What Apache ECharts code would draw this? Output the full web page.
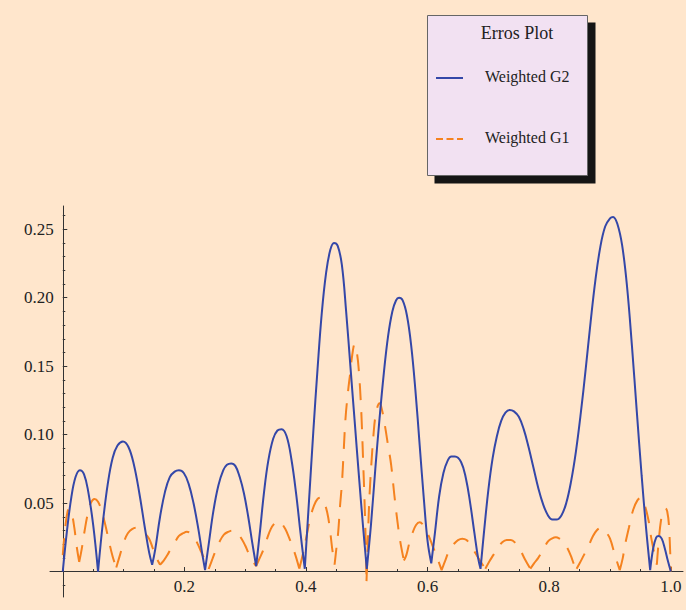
<!DOCTYPE html>
<html>
<head>
<meta charset="utf-8">
<script src="https://cdn.jsdelivr.net/npm/echarts@6/dist/echarts.min.js"></script>
<style>
html,body{margin:0;padding:0;background:#FFE6CC;}
#c{width:686px;height:610px;}
</style>
</head>
<body>
<div id="c"></div>
<script>
// ---- Data ----
const legendTitle = 'Erros Plot';
const seriesNames = ['Weighted G2', 'Weighted G1'];

const xMajorTicks = [0, 0.2, 0.4, 0.6, 0.8, 1.0];
const xTickLabels = [0.2, 0.4, 0.6, 0.8, 1.0];
const xMinorTicks = [0.05, 0.1, 0.15, 0.25, 0.3, 0.35, 0.45, 0.5, 0.55, 0.65, 0.7, 0.75, 0.85, 0.9, 0.95];
const yMajorTicks = [0, 0.05, 0.10, 0.15, 0.20, 0.25];
const yTickLabels = [0.05, 0.10, 0.15, 0.20, 0.25];
const yMinorTicks = [-0.01, 0.01, 0.02, 0.03, 0.04, 0.06, 0.07, 0.08, 0.09, 0.11, 0.12, 0.13, 0.14,
                     0.16, 0.17, 0.18, 0.19, 0.21, 0.22, 0.23, 0.24, 0.26];

// Weighted G2 (solid blue), one list per arch between cusps
const weightedG2 = [
[[0.000,0.000],[0.007,0.030],[0.014,0.054],[0.021,0.069],[0.028,0.074],[0.035,0.071],[0.042,0.058],[0.050,0.034],[0.058,0.000]],
[[0.058,0.000],[0.066,0.036],[0.074,0.064],[0.082,0.083],[0.090,0.092],[0.099,0.095],[0.108,0.091],[0.117,0.078],[0.126,0.057],[0.135,0.032],[0.142,0.014],[0.147,0.005]],
[[0.147,0.005],[0.152,0.016],[0.160,0.040],[0.168,0.058],[0.176,0.069],[0.184,0.073],[0.191,0.074],[0.199,0.072],[0.207,0.064],[0.215,0.050],[0.223,0.031],[0.229,0.014],[0.234,0.001]],
[[0.234,0.001],[0.240,0.020],[0.248,0.045],[0.256,0.063],[0.264,0.074],[0.270,0.078],[0.277,0.079],[0.284,0.077],[0.291,0.069],[0.298,0.057],[0.305,0.040],[0.312,0.020],[0.318,0.004]],
[[0.318,0.004],[0.324,0.028],[0.331,0.058],[0.338,0.081],[0.346,0.097],[0.353,0.103],[0.360,0.104],[0.368,0.099],[0.376,0.082],[0.384,0.056],[0.391,0.028],[0.398,0.002]],
[[0.398,0.002],[0.405,0.052],[0.412,0.102],[0.419,0.148],[0.426,0.189],[0.433,0.218],[0.440,0.235],[0.446,0.240],[0.452,0.238],[0.459,0.224],[0.466,0.190],[0.473,0.150],[0.480,0.110],[0.487,0.070],[0.494,0.032],[0.500,0.002]],
[[0.500,0.002],[0.507,0.035],[0.514,0.075],[0.521,0.112],[0.528,0.145],[0.535,0.172],[0.542,0.190],[0.548,0.198],[0.553,0.200],[0.559,0.198],[0.566,0.187],[0.573,0.165],[0.580,0.132],[0.587,0.092],[0.594,0.052],[0.600,0.022],[0.606,0.006]],
[[0.606,0.006],[0.612,0.028],[0.619,0.055],[0.626,0.072],[0.633,0.081],[0.639,0.084],[0.645,0.084],[0.655,0.080],[0.663,0.068],[0.670,0.050],[0.677,0.028],[0.683,0.010],[0.687,0.002]],
[[0.687,0.002],[0.693,0.030],[0.700,0.060],[0.707,0.083],[0.714,0.099],[0.721,0.110],[0.728,0.116],[0.735,0.118],[0.742,0.117],[0.750,0.113],[0.758,0.104],[0.766,0.091],[0.774,0.076],[0.782,0.061],[0.790,0.049],[0.798,0.041],[0.805,0.038],[0.812,0.038],
 [0.820,0.041],[0.828,0.050],[0.836,0.066],[0.844,0.088],[0.852,0.116],[0.860,0.148],[0.868,0.182],[0.876,0.213],[0.884,0.237],[0.892,0.252],[0.900,0.258],[0.905,0.259],[0.912,0.254],[0.920,0.238],[0.928,0.208],[0.936,0.165],[0.944,0.117],[0.952,0.070],[0.959,0.033],[0.966,0.001]],
[[0.966,0.001],[0.971,0.017],[0.976,0.025],[0.980,0.026],[0.985,0.024],[0.990,0.017],[0.995,0.008],[1.000,0.000]]
];

// Weighted G1 (dashed orange), one list per arch between cusps
const weightedG1 = [
[[0.000,0.012],[0.004,0.032],[0.008,0.044],[0.011,0.046],[0.015,0.042],[0.019,0.032],[0.023,0.018],[0.027,0.007]],
[[0.027,0.007],[0.031,0.016],[0.036,0.030],[0.041,0.042],[0.046,0.050],[0.052,0.053],[0.058,0.051],[0.064,0.044],[0.070,0.034],[0.076,0.022],[0.082,0.011],[0.088,0.003]],
[[0.088,0.003],[0.094,0.012],[0.100,0.021],[0.107,0.028],[0.114,0.031],[0.121,0.032],[0.128,0.031],[0.135,0.028],[0.142,0.024],[0.148,0.017],[0.154,0.010],[0.160,0.005]],
[[0.160,0.005],[0.166,0.008],[0.172,0.012],[0.178,0.017],[0.184,0.021],[0.191,0.026],[0.198,0.028],[0.204,0.029],[0.210,0.028],[0.216,0.025],[0.222,0.020],[0.228,0.014],[0.234,0.008],[0.240,0.002]],
[[0.240,0.002],[0.246,0.009],[0.252,0.016],[0.258,0.022],[0.265,0.027],[0.272,0.029],[0.280,0.030],[0.287,0.028],[0.294,0.024],[0.300,0.019],[0.306,0.013],[0.312,0.008],[0.318,0.004]],
[[0.318,0.004],[0.324,0.010],[0.330,0.016],[0.336,0.024],[0.342,0.031],[0.348,0.035],[0.354,0.037],[0.360,0.035],[0.366,0.031],[0.372,0.025],[0.378,0.018],[0.384,0.010],[0.389,0.002]],
[[0.389,0.002],[0.395,0.013],[0.401,0.026],[0.407,0.039],[0.413,0.048],[0.419,0.053],[0.425,0.054],[0.430,0.050],[0.435,0.043],[0.439,0.032],[0.443,0.017],[0.447,0.005]],
[[0.447,0.005],[0.450,0.017],[0.453,0.029],[0.456,0.048],[0.459,0.064],[0.462,0.088],[0.465,0.112],[0.469,0.131],[0.473,0.146],[0.476,0.158],[0.480,0.166],[0.484,0.159],[0.487,0.146],[0.490,0.125],[0.492,0.105],[0.494,0.080],[0.496,0.055],[0.498,0.025],[0.4995,-0.007]],
[[0.4995,-0.007],[0.501,0.012],[0.503,0.040],[0.505,0.060],[0.508,0.082],[0.511,0.100],[0.514,0.113],[0.518,0.121],[0.521,0.123],[0.525,0.118],[0.530,0.106],[0.535,0.092],[0.540,0.078],[0.545,0.057],[0.550,0.038],[0.555,0.022],[0.561,0.008]],
[[0.561,0.008],[0.565,0.012],[0.570,0.021],[0.575,0.028],[0.581,0.034],[0.587,0.036],[0.594,0.033],[0.601,0.027],[0.608,0.019],[0.615,0.011],[0.623,0.001]],
[[0.623,0.001],[0.629,0.008],[0.636,0.016],[0.643,0.020],[0.650,0.023],[0.657,0.024],[0.664,0.023],[0.671,0.019],[0.678,0.014],[0.686,0.008],[0.695,0.002]],
[[0.695,0.002],[0.701,0.007],[0.708,0.012],[0.715,0.017],[0.722,0.021],[0.730,0.023],[0.737,0.023],[0.744,0.021],[0.752,0.016],[0.760,0.009],[0.769,0.002]],
[[0.769,0.002],[0.775,0.006],[0.782,0.010],[0.790,0.016],[0.798,0.022],[0.804,0.024],[0.811,0.025],[0.817,0.024],[0.823,0.022],[0.830,0.017],[0.836,0.011],[0.841,0.005],[0.845,0.002]],
[[0.845,0.002],[0.850,0.006],[0.857,0.012],[0.864,0.018],[0.871,0.025],[0.878,0.030],[0.886,0.032],[0.893,0.029],[0.900,0.024],[0.908,0.012],[0.916,0.001]],
[[0.916,0.001],[0.921,0.010],[0.924,0.018],[0.931,0.032],[0.938,0.045],[0.945,0.052],[0.951,0.054],[0.956,0.050],[0.963,0.038],[0.968,0.024],[0.972,0.015],[0.977,0.005]],
[[0.977,0.005],[0.980,0.022],[0.984,0.038],[0.988,0.045],[0.991,0.046],[0.994,0.044],[0.997,0.033],[1.000,0.000]]
];

// join arches into one series, with a gap between arches so each keeps its cusp
function joinArches(arches) {
  const out = [];
  arches.forEach((a, i) => {
    if (i > 0) out.push(['-', '-']);
    a.forEach(p => out.push(p));
  });
  return out;
}

// ---- Styles / layout ----
const BG = '#FFE6CC';
const BLUE = '#3447A8';
const ORANGE = '#F5821F';
const AXIS = '#333333';
const FONT = 'Liberation Serif, DejaVu Serif, serif';
const X_MIN = -0.021, X_MAX = 1.02, Y_MIN = -0.0186, Y_MAX = 0.267;
const GRID = { left: 50, right: 3, top: 206, bottom: 13 };
const W = 686, H = 610;
const plotW = W - GRID.left - GRID.right, plotH = H - GRID.top - GRID.bottom;
// distance of the zero lines from the grid edges (used to place label-only axes)
const xZeroFromBottom = plotH * (0 - Y_MIN) / (Y_MAX - Y_MIN);
const yZeroFromLeft = plotW * (0 - X_MIN) / (X_MAX - X_MIN);

function xAxisDef(kind) {
  const base = { type: 'value', min: X_MIN, max: X_MAX, position: 'bottom', splitLine: { show: false } };
  if (kind === 'labels') {
    return Object.assign(base, {
      offset: -xZeroFromBottom,
      axisLine: { show: false, onZero: false }, axisTick: { show: false },
      axisLabel: { show: true, customValues: xTickLabels, formatter: v => v.toFixed(1),
                   fontFamily: FONT, fontSize: 17, color: '#222', margin: 6 }
    });
  }
  const major = kind === 'major';
  return Object.assign(base, {
    axisLine: { show: major, onZero: true, onZeroAxisIndex: 0, lineStyle: { color: AXIS, width: 1 } },
    axisTick: { show: true, inside: true, length: major ? 4.5 : 2.5,
                customValues: major ? xMajorTicks : xMinorTicks, lineStyle: { color: AXIS, width: 1 } },
    axisLabel: { show: false }
  });
}
function yAxisDef(kind) {
  const base = { type: 'value', min: Y_MIN, max: Y_MAX, position: 'left', splitLine: { show: false } };
  if (kind === 'labels') {
    return Object.assign(base, {
      offset: -yZeroFromLeft,
      axisLine: { show: false, onZero: false }, axisTick: { show: false },
      axisLabel: { show: true, customValues: yTickLabels, formatter: v => v.toFixed(2),
                   fontFamily: FONT, fontSize: 17, color: '#222', margin: 9 }
    });
  }
  const major = kind === 'major';
  return Object.assign(base, {
    axisLine: { show: major, onZero: true, onZeroAxisIndex: 0, lineStyle: { color: AXIS, width: 1 } },
    axisTick: { show: true, inside: true, length: major ? 4.5 : 2.5,
                customValues: major ? yMajorTicks : yMinorTicks, lineStyle: { color: AXIS, width: 1 } },
    axisLabel: { show: false }
  });
}

const chart = echarts.init(document.getElementById('c'), null, { renderer: 'svg' });
chart.setOption({
  backgroundColor: BG,
  animation: false,
  grid: Object.assign({ containLabel: false, outerBoundsMode: 'none' }, GRID),
  xAxis: [xAxisDef('major'), xAxisDef('minor'), xAxisDef('labels')],
  yAxis: [yAxisDef('major'), yAxisDef('minor'), yAxisDef('labels')],
  series: [
    { name: seriesNames[0], type: 'line', xAxisIndex: 0, yAxisIndex: 0, data: joinArches(weightedG2),
      showSymbol: false, symbol: 'none', smooth: 0.4, connectNulls: false,
      lineStyle: { color: BLUE, width: 2 }, z: 3 },
    { name: seriesNames[1], type: 'line', xAxisIndex: 0, yAxisIndex: 0, data: joinArches(weightedG1),
      showSymbol: false, symbol: 'none', smooth: 0.4, connectNulls: false,
      lineStyle: { color: ORANGE, width: 2, type: [17, 12] }, z: 2 }
  ],
  graphic: [
    { type: 'rect', silent: true, shape: { x: 434.5, y: 22.5, width: 161, height: 161 },
      style: { fill: '#151515' }, z: 10 },
    { type: 'rect', silent: true, shape: { x: 427.5, y: 15.5, width: 160, height: 160 },
      style: { fill: '#F2E1F2', stroke: '#666666', lineWidth: 1 }, z: 11 },
    { type: 'text', silent: true, x: 517, y: 33, z: 12,
      style: { text: legendTitle, font: '18px ' + FONT, fill: '#222', textAlign: 'center', textVerticalAlign: 'middle' } },
    { type: 'line', silent: true, z: 12, shape: { x1: 436, y1: 78, x2: 463, y2: 78 },
      style: { stroke: BLUE, lineWidth: 2 } },
    { type: 'text', silent: true, x: 485, y: 76, z: 12,
      style: { text: seriesNames[0], font: '16px ' + FONT, fill: '#222', textAlign: 'left', textVerticalAlign: 'middle' } },
    { type: 'line', silent: true, z: 12, shape: { x1: 436, y1: 139, x2: 463, y2: 139 },
      style: { stroke: ORANGE, lineWidth: 2, lineDash: [7, 3.5] } },
    { type: 'text', silent: true, x: 485, y: 137, z: 12,
      style: { text: seriesNames[1], font: '16px ' + FONT, fill: '#222', textAlign: 'left', textVerticalAlign: 'middle' } }
  ]
});
</script>
</body>
</html>
